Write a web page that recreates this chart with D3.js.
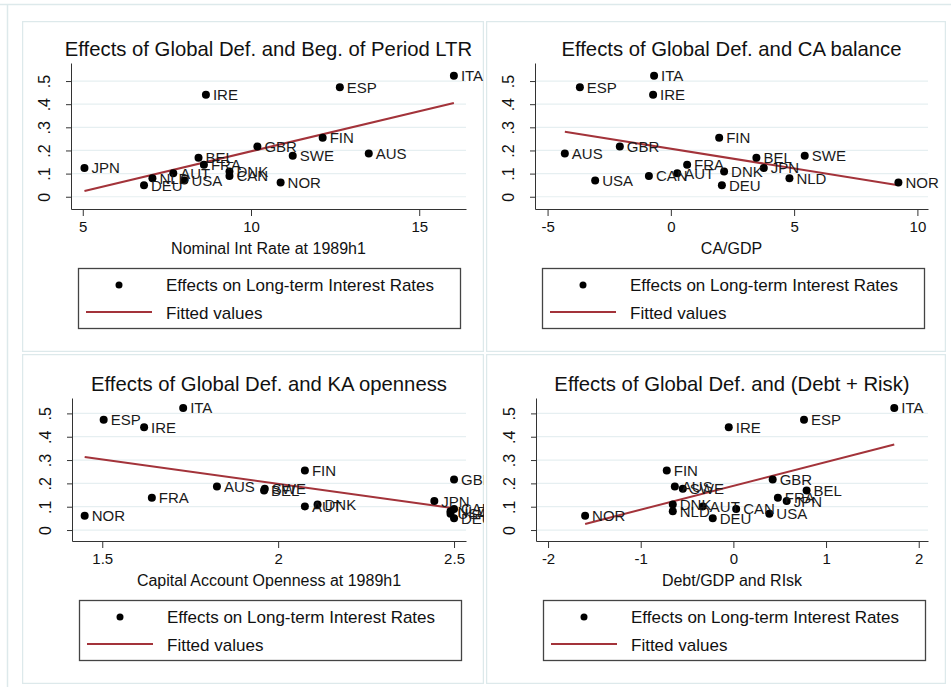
<!DOCTYPE html>
<html>
<head>
<meta charset="utf-8">
<script src="https://cdn.jsdelivr.net/npm/d3@7"></script>
<style>
body { margin: 0; background: #fff; }
svg { display: block; font-family: "Liberation Sans", Arial, sans-serif; }
</style>
</head>
<body>
<div id="chart"></div>
<script>
// Countries, same order in every value array
var countries = ["ITA","ESP","IRE","FIN","GBR","AUS","SWE","BEL","FRA","JPN","DNK","AUT","CAN","NLD","USA","NOR","DEU"];

// Effects on long-term interest rates (y in all four panels)
var effects = [0.523,0.473,0.441,0.255,0.217,0.187,0.177,0.169,0.138,0.124,0.109,0.101,0.090,0.080,0.070,0.061,0.050];

// x variables, one per panel
var nomIntRate = [16.03,12.64,8.66,12.13,10.19,13.50,11.24,8.44,8.60,5.05,9.36,7.69,9.36,7.07,8.02,10.88,6.82];
var caGdp      = [-0.68,-3.69,-0.72,1.96,-2.07,-4.30,5.43,3.47,0.66,3.77,2.16,0.26,-0.89,4.81,-3.07,9.23,2.07];
var kaOpen     = [1.730,1.504,1.619,2.076,2.500,1.826,1.962,1.960,1.641,2.444,2.112,2.076,2.500,2.490,2.490,1.450,2.500];
var debtRisk   = [1.736,0.762,-0.050,-0.719,0.424,-0.632,-0.546,0.790,0.480,0.575,-0.654,-0.330,0.030,-0.654,0.388,-1.600,-0.223];

// Fitted values (end points of each line)
var fit1X = [5.05, 16.03],  fit1Y = [0.025, 0.405];
var fit2X = [-4.30, 9.23],  fit2Y = [0.281, 0.050];
var fit3X = [1.45, 2.50],   fit3Y = [0.313, 0.093];
var fit4X = [-1.60, 1.736], fit4Y = [0.026, 0.367];

// Titles and tick labels
var titles = ["Effects of Global Def. and Beg. of Period LTR", "Effects of Global Def. and CA balance",
              "Effects of Global Def. and KA openness", "Effects of Global Def. and (Debt + Risk)"];
var xTitles = ["Nominal Int Rate at 1989h1", "CA/GDP", "Capital Account Openness at 1989h1", "Debt/GDP and RIsk"];
var xTicks1 = [5, 10, 15];
var xTicks2 = [-5, 0, 5, 10];
var xTicks3 = [1.5, 2, 2.5];
var xTicks4 = [-2, -1, 0, 1, 2];
var yTicks = [0, 0.1, 0.2, 0.3, 0.4, 0.5];
var yTickLabels = ["0", ".1", ".2", ".3", ".4", ".5"];
var legendLabels = ["Effects on Long-term Interest Rates", "Fitted values"];

var W = 951, H = 687;
var fitColor = "#a3333a";
var frameColor = "#dde9eb";

var svg = d3.select("#chart").append("svg")
            .attr("width", W)
            .attr("height", H);

svg.append("rect").attr("width", W).attr("height", H).attr("fill", "#fff");

// outer frame lines
svg.append("line").attr("x1", 0).attr("x2", W).attr("y1", 4.5).attr("y2", 4.5)
    .attr("stroke", frameColor).attr("stroke-width", 1.5);
svg.append("line").attr("x1", 7.5).attr("x2", 7.5).attr("y1", 4).attr("y2", H)
    .attr("stroke", frameColor).attr("stroke-width", 1.5);

var panels = [
    {box: [22, 21, 484, 352],  plot: {l: 71,  r: 466, t: 63,  b: 209}, xDom: [4.65, 16.39], yDom: [-0.053, 0.578],
     xs: nomIntRate, xTicks: xTicks1, fitX: fit1X, fitY: fit1Y},
    {box: [486, 21, 946, 352], plot: {l: 535, r: 928, t: 63,  b: 209}, xDom: [-5.51, 10.43], yDom: [-0.053, 0.578],
     xs: caGdp, xTicks: xTicks2, fitX: fit2X, fitY: fit2Y},
    {box: [22, 354, 484, 684], plot: {l: 72,  r: 466, t: 398, b: 541}, xDom: [1.414, 2.534], yDom: [-0.047, 0.566],
     xs: kaOpen, xTicks: xTicks3, fitX: fit3X, fitY: fit3Y},
    {box: [486, 354, 946, 684], plot: {l: 536, r: 928, t: 398, b: 541}, xDom: [-2.13, 2.10], yDom: [-0.047, 0.566],
     xs: debtRisk, xTicks: xTicks4, fitX: fit4X, fitY: fit4Y}
];

panels.forEach(function(p, i) {
    var b = p.box, pl = p.plot;

    svg.append("clipPath").attr("id", "clip" + i)
        .append("rect").attr("x", b[0]).attr("y", b[1]).attr("width", b[2] - b[0]).attr("height", b[3] - b[1]);

    var g = svg.append("g").attr("clip-path", "url(#clip" + i + ")");

    // panel border
    g.append("rect")
        .attr("x", b[0] + 0.5).attr("y", b[1] + 0.5)
        .attr("width", b[2] - b[0] - 1).attr("height", b[3] - b[1] - 1)
        .attr("fill", "#fff").attr("stroke", frameColor).attr("stroke-width", 1.5);

    var x = d3.scaleLinear().domain(p.xDom).range([pl.l, pl.r]);
    var y = d3.scaleLinear().domain(p.yDom).range([pl.b, pl.t]);

    // grid lines
    g.selectAll(".grid")
        .data(yTicks)
        .enter().append("line")
            .attr("x1", pl.l).attr("x2", pl.r)
            .attr("y1", function(d) { return y(d); })
            .attr("y2", function(d) { return y(d); })
            .attr("stroke", "#e6eff1").attr("stroke-width", 1.2);

    // x axis (plain hyphen for negatives, like the original)
    var gx = g.append("g")
        .attr("transform", "translate(0," + pl.b + ")")
        .call(d3.axisBottom(x).tickValues(p.xTicks).tickFormat(function(d) { return String(d); })
                .tickSize(7).tickPadding(5).tickSizeOuter(0));
    gx.selectAll("text").attr("font-size", 15).attr("fill", "#111").attr("font-family", null);
    gx.selectAll("path, line").attr("stroke", "#333");

    // y axis with rotated labels
    var gy = g.append("g")
        .attr("transform", "translate(" + pl.l + ",0)")
        .call(d3.axisLeft(y).tickValues(yTicks).tickFormat(function(d, j) { return yTickLabels[j]; }).tickSize(5).tickSizeOuter(0));
    gy.selectAll("path, line").attr("stroke", "#333");
    gy.selectAll("text")
        .attr("transform", "rotate(-90)")
        .attr("x", 0).attr("y", -21).attr("dy", 0)
        .attr("font-size", 16).attr("fill", "#111").attr("font-family", null)
        .style("text-anchor", "middle");

    // titles
    g.append("text")
        .attr("x", (pl.l + pl.r) / 2).attr("y", pl.t - 7)
        .attr("text-anchor", "middle").attr("font-size", 20.3).attr("fill", "#111")
        .text(titles[i]);
    g.append("text")
        .attr("x", (pl.l + pl.r) / 2).attr("y", pl.b + 45)
        .attr("text-anchor", "middle").attr("font-size", 16).attr("fill", "#111")
        .text(xTitles[i]);

    // fitted line
    g.append("line")
        .attr("x1", x(p.fitX[0])).attr("y1", y(p.fitY[0]))
        .attr("x2", x(p.fitX[1])).attr("y2", y(p.fitY[1]))
        .attr("stroke", fitColor).attr("stroke-width", 2);

    // points + country labels
    var pts = countries.map(function(c, j) { return {name: c, x: p.xs[j], y: effects[j]}; });
    g.selectAll(".dot")
        .data(pts)
        .enter().append("circle")
            .attr("cx", function(d) { return x(d.x); })
            .attr("cy", function(d) { return y(d.y); })
            .attr("r", 4)
            .attr("fill", "#000");
    g.selectAll(".lab")
        .data(pts)
        .enter().append("text")
            .attr("x", function(d) { return x(d.x) + 7; })
            .attr("y", function(d) { return y(d.y); })
            .attr("dy", "0.36em")
            .attr("font-size", 15).attr("fill", "#1a1a1a")
            .text(function(d) { return d.name; });

    // legend
    var lx = pl.l + 7, ly = pl.b + 59;
    g.append("rect")
        .attr("x", lx + 0.5).attr("y", ly + 0.5).attr("width", 382).attr("height", 60)
        .attr("fill", "#fff").attr("stroke", "#444").attr("stroke-width", 1.3);
    g.append("circle").attr("cx", lx + 41).attr("cy", ly + 17).attr("r", 3.5).attr("fill", "#000");
    g.append("line")
        .attr("x1", lx + 8).attr("x2", lx + 74).attr("y1", ly + 44).attr("y2", ly + 44)
        .attr("stroke", fitColor).attr("stroke-width", 2);
    g.selectAll(".leg")
        .data(legendLabels)
        .enter().append("text")
            .attr("x", lx + 88)
            .attr("y", function(d, j) { return ly + 17 + j * 27.5; })
            .attr("dy", "0.36em")
            .attr("font-size", 17).attr("fill", "#111")
            .text(function(d) { return d; });
});
</script>
</body>
</html>
